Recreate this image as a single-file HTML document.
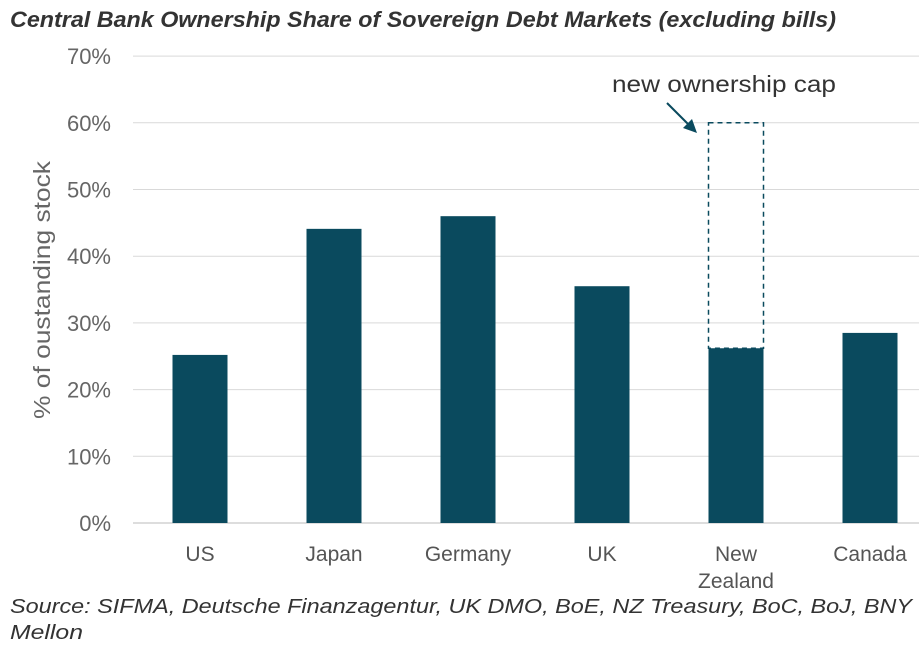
<!DOCTYPE html>
<html><head><meta charset="utf-8"><style>
body{margin:0;width:919px;height:665px;background:#fff;overflow:hidden;font-family:"Liberation Sans",Arial,sans-serif}
</style></head><body>
<svg width="919" height="665" xmlns="http://www.w3.org/2000/svg">
<text x="10" y="27" font-size="22" font-weight="bold" font-style="italic" fill="#333" textLength="826" lengthAdjust="spacingAndGlyphs">Central Bank Ownership Share of Sovereign Debt Markets (excluding bills)</text>
<g id="grid"></g>
<g id="yticks"></g>
<g id="bars"></g>
<g id="xlabels"></g>
<text transform="translate(50,290) rotate(-90)" text-anchor="middle" font-size="23" fill="#666" textLength="258" lengthAdjust="spacingAndGlyphs">% of oustanding stock</text>
<text x="612" y="92" font-size="23" fill="#333" textLength="224" lengthAdjust="spacingAndGlyphs">new ownership cap</text>
<line x1="667" y1="103" x2="690" y2="126" stroke="#0a4a5e" stroke-width="2"/>
<polygon points="697,133 683,128 692,119" fill="#0a4a5e"/>
<text x="10" y="613" font-size="20" font-style="italic" fill="#333" textLength="902" lengthAdjust="spacingAndGlyphs">Source: SIFMA, Deutsche Finanzagentur, UK DMO, BoE, NZ Treasury, BoC, BoJ, BNY</text>
<text x="10" y="639" font-size="20" font-style="italic" fill="#333" textLength="73" lengthAdjust="spacingAndGlyphs">Mellon</text>
</svg>
<script>
const categories=["US","Japan","Germany","UK","New|Zealand","Canada"];
const values=[25.2,44.1,46.0,35.5,26.2,28.5];
const capValue=60;
const capIndex=4;
const yTicks=[0,10,20,30,40,50,60,70];
const NS="http://www.w3.org/2000/svg";
const y0=523,pxPer=66.7/10,left=133,step=134,bw=55;
const y=v=>y0-v*pxPer, xc=i=>left+step*(i+0.5);
function mk(t,a,p){const e=document.createElementNS(NS,t);for(const k in a)e.setAttribute(k,a[k]);p.appendChild(e);return e;}
const g=document.getElementById('grid'),yt=document.getElementById('yticks'),b=document.getElementById('bars'),xl=document.getElementById('xlabels');
yTicks.forEach(t=>{
 const l=mk('line',{x1:left,x2:919,y1:y(t),y2:y(t),stroke:t===0?'#bbb':'#d9d9d9','stroke-width':1},g);
 
 
 const tx=mk('text',{x:111,y:y(t)+8,'text-anchor':'end','font-size':22,fill:'#666'},yt);
 tx.textContent=t+'%';
 
 
});
values.forEach((v,i)=>{
 const r=mk('rect',{x:xc(i)-bw/2,y:y(v),width:bw,height:y0-y(v),fill:'#0a4a5e'},b);
 
 
 const lines=categories[i].split('|');
 lines.forEach((s,j)=>{
  const tx=mk('text',{x:xc(i),y:561+j*27,'text-anchor':'middle','font-size':21,fill:'#555'},xl);
  tx.textContent=s;
  
  
 });
});
const cv=values[capIndex];
const cap=mk('rect',{x:xc(capIndex)-bw/2,y:y(capValue),width:bw,height:y(cv)-y(capValue),fill:'none',stroke:'#0a4a5e','stroke-width':1.5,'stroke-dasharray':'5,4'},b);


</script>
</body></html>
